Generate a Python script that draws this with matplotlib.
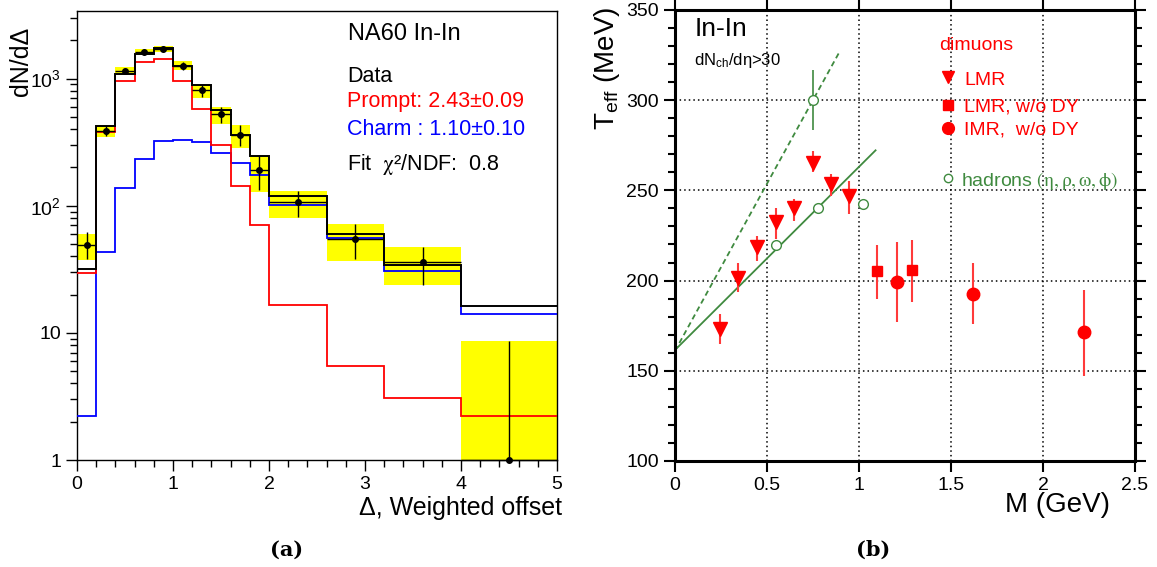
import matplotlib
matplotlib.use('Agg')
import matplotlib.pyplot as plt
import numpy as np
from matplotlib.ticker import FixedLocator, MultipleLocator, NullFormatter, FixedFormatter
from matplotlib.patches import Rectangle

plt.rcParams['font.family'] = ['Liberation Sans', 'DejaVu Sans']
plt.rcParams['mathtext.fontset'] = 'custom'
plt.rcParams['mathtext.rm'] = 'Liberation Sans'
plt.rcParams['mathtext.it'] = 'Liberation Sans:italic'
plt.rcParams['mathtext.bf'] = 'Liberation Sans:bold'

# ---------------- Left panel data ----------------
edges = [0, 0.2, 0.4, 0.6, 0.8, 1.0, 1.2, 1.4, 1.6, 1.8, 2.0, 2.6, 3.2, 4.0, 5.0]
data_vals = [49, 390, 1155, 1615, 1715, 1264, 806, 523, 360, 190, 107, 54.6, 35.9, 1.0]
stat_lo = [38, 355, 1085, 1530, 1620, 1170, 720, 450, 295, 132, 81, 38, 24, 1.0]
stat_hi = [62, 428, 1220, 1710, 1815, 1360, 890, 598, 428, 248, 130, 72, 47, 8.7]
syst_lo = [37.4, 348, 1075, 1520, 1605, 1160, 707, 437, 284, 129, 80, 36.8, 23.7, 1.0]
syst_hi = [60.4, 430, 1226, 1715, 1820, 1366, 898, 600, 430, 250, 130, 72.3, 47.5, 8.7]
fit_total = [31.8, 422, 1088, 1560, 1737, 1264, 892, 562, 358, 247, 120, 60.4, 34.2, 16.3]
prompt = [29.4, 381, 965, 1358, 1425, 953, 580, 302, 142, 71, 16.7, 5.5, 3.07, 2.22]
charm = [2.2, 43.5, 137, 232, 320, 327, 317, 260, 217, 176, 102, 56, 30.7, 14.0]

# ---------------- Right panel data ----------------
lmr_m = [0.245, 0.34, 0.444, 0.547, 0.647, 0.748, 0.846, 0.947]
lmr_t = [173.4, 201.7, 218.6, 232.4, 240.3, 265.4, 253.5, 247.0]
lmr_elo = [8.4, 7.9, 7.9, 9.2, 7.0, 5.4, 6.5, 10.0]
lmr_ehi = [7.9, 8.1, 5.9, 7.7, 4.9, 6.5, 5.5, 8.0]
sq_m = [1.096, 1.288]
sq_t = [205.1, 205.7]
sq_elo = [15.2, 17.4]
sq_ehi = [14.6, 16.7]
imr_m = [1.209, 1.62, 2.223]
imr_t = [199.1, 192.8, 171.3]
imr_elo = [22.1, 16.6, 24.0]
imr_ehi = [22.2, 17.0, 23.7]
had_m = [0.547, 0.748, 0.779, 1.02]
had_t = [219.6, 300.0, 240.3, 242.5]
had_elo = [0, 16.5, 0, 0]
had_ehi = [0, 17.0, 0, 0]
fit_solid_m = [0.0, 1.09]
fit_solid_t = [161.5, 272.2]
fit_dash_m = [0.0, 0.893]
fit_dash_t = [161.0, 326.6]

RED = '#ff0000'
GREEN = '#3f8a3f'

fig = plt.figure(figsize=(11.57, 5.67), dpi=100)

# ================= Left panel =================
axL = fig.add_axes([0.0666, 0.1887, 0.4149, 0.7919])
edges_a = np.array(edges)
centers = 0.5 * (edges_a[:-1] + edges_a[1:])
halfw = 0.5 * np.diff(edges_a)

for i in range(len(centers)):
    axL.add_patch(Rectangle((edges_a[i], syst_lo[i]), edges_a[i + 1] - edges_a[i],
                            syst_hi[i] - syst_lo[i], facecolor='#ffff00',
                            edgecolor='none', zorder=1))

axL.stairs(charm, edges, baseline=None, color='#0000ff', lw=1.3, zorder=3)
axL.stairs(prompt, edges, baseline=None, color='#ff0000', lw=1.3, zorder=3)
axL.stairs(fit_total, edges, baseline=None, color='black', lw=1.4, zorder=4)

dv = np.array(data_vals)
yerr = [dv - np.array(stat_lo), np.array(stat_hi) - dv]
axL.errorbar(centers, dv, xerr=halfw, yerr=yerr, fmt='o', color='black', ms=4,
             lw=1.0, capsize=0, zorder=5, clip_on=False)

axL.set_yscale('log')
axL.set_xlim(0, 5)
axL.set_ylim(1, 3400)
axL.yaxis.set_major_locator(FixedLocator([1, 10, 100, 1000]))
axL.yaxis.set_major_formatter(FixedFormatter(['1', '10', '$10^2$', '$10^3$']))
minors = [m * 10 ** d for d in range(0, 4) for m in range(2, 10) if m * 10 ** d < 3400]
axL.yaxis.set_minor_locator(FixedLocator(minors))
axL.yaxis.set_minor_formatter(NullFormatter())
axL.xaxis.set_major_locator(MultipleLocator(1))
axL.xaxis.set_minor_locator(MultipleLocator(0.2))
axL.tick_params(which='both', direction='out', top=False, right=False,
                labelsize=14, width=1)
axL.tick_params(which='major', length=8)
axL.tick_params(which='minor', length=5)
for s in axL.spines.values():
    s.set_linewidth(1.0)

axL.text(0.565, 0.935, 'NA60 In-In', transform=axL.transAxes, fontsize=17,
         va='baseline', ha='left')
axL.text(0.562, 0.8425, 'Data', transform=axL.transAxes, fontsize=15.5,
         va='baseline', ha='left')
axL.text(0.562, 0.7855, 'Prompt: 2.43\u00b10.09', transform=axL.transAxes,
         fontsize=15.5, va='baseline', ha='left', color='#ff0000')
axL.text(0.562, 0.7238, 'Charm : 1.10\u00b10.10', transform=axL.transAxes,
         fontsize=15.5, va='baseline', ha='left', color='#0000ff')
axL.text(0.562, 0.6459, 'Fit  $\\mathrm{\\chi}$\u00b2/NDF:  0.8', transform=axL.transAxes,
         fontsize=15.5, va='baseline', ha='left', math_fontfamily='stix')

fig.text(0.018, 0.952, 'dN/d\u0394', rotation=90, ha='center', va='top', fontsize=18)
fig.text(0.486, 0.104, '\u0394, Weighted offset', ha='right', va='center', fontsize=18)

# ================= Right panel =================
axR = fig.add_axes([0.5834, 0.187, 0.3976, 0.7954])
axR.set_xlim(0, 2.5)
axR.set_ylim(100, 350)
axR.yaxis.set_major_locator(MultipleLocator(50))
axR.yaxis.set_minor_locator(MultipleLocator(10))
axR.xaxis.set_major_locator(FixedLocator([0, 0.5, 1, 1.5, 2, 2.5]))
axR.xaxis.set_major_formatter(FixedFormatter(['0', '0.5', '1', '1.5', '2', '2.5']))
axR.grid(True, which='major', color='black', linestyle=(0, (1, 2)), lw=1.1, zorder=0)
axR.tick_params(which='both', direction='out', top=True, right=True,
                labeltop=False, labelright=False, labelsize=14, width=1.5)
axR.tick_params(which='major', length=8)
axR.tick_params(which='minor', length=5)
for s in axR.spines.values():
    s.set_linewidth(2.2)

axR.plot(fit_dash_m, fit_dash_t, color=GREEN, lw=1.3, linestyle=(0, (3, 2)), zorder=2)
axR.plot(fit_solid_m, fit_solid_t, color=GREEN, lw=1.3, zorder=2)

axR.errorbar(had_m, had_t, yerr=[had_elo, had_ehi], fmt='o', mfc='white',
             mec=GREEN, mew=1.0, ms=7, ecolor=GREEN, elinewidth=1.2, capsize=0, zorder=3)
axR.errorbar(lmr_m, lmr_t, yerr=[lmr_elo, lmr_ehi], fmt='v', color=RED, ms=9.5,
             ecolor='#ff3a3a', elinewidth=1.5, capsize=0, zorder=4)
axR.errorbar(sq_m, sq_t, yerr=[sq_elo, sq_ehi], fmt='s', color=RED, ms=7.5,
             ecolor='#ff3a3a', elinewidth=1.5, capsize=0, zorder=4)
axR.errorbar(imr_m, imr_t, yerr=[imr_elo, imr_ehi], fmt='o', color=RED, ms=9,
             ecolor='#ff3a3a', elinewidth=1.5, capsize=0, zorder=4)

# legend-like annotations
axR.text(0.574, 0.911, 'dimuons', transform=axR.transAxes, color=RED, fontsize=14,
         va='baseline', ha='left')
axR.plot([0.593], [0.851], 'v', color=RED, ms=8.5, transform=axR.transAxes, clip_on=False)
axR.text(0.628, 0.834, 'LMR', transform=axR.transAxes, color=RED, fontsize=14,
         va='baseline', ha='left')
axR.plot([0.593], [0.789], 's', color=RED, ms=7, transform=axR.transAxes, clip_on=False)
axR.text(0.628, 0.7745, 'LMR, w/o DY', transform=axR.transAxes, color=RED, fontsize=14,
         va='baseline', ha='left')
axR.plot([0.593], [0.738], 'o', color=RED, ms=8.5, transform=axR.transAxes, clip_on=False)
axR.text(0.628, 0.7228, 'IMR,  w/o DY', transform=axR.transAxes, color=RED, fontsize=14,
         va='baseline', ha='left')
axR.plot([0.593], [0.627], 'o', mfc='white', mec=GREEN, mew=1.0, ms=6,
         transform=axR.transAxes, clip_on=False)
axR.text(0.622, 0.6098, 'hadrons $\\mathrm{(\\eta, \\rho, \\omega, \\phi)}$',
         transform=axR.transAxes, color=GREEN, fontsize=14, va='baseline', ha='left',
         math_fontfamily='stix')

axR.text(0.0435, 0.942, 'In-In', transform=axR.transAxes, fontsize=19,
         va='baseline', ha='left')
axR.text(0.041, 0.878, 'dN$_{\\rm ch}$/d\u03b7>30', transform=axR.transAxes, fontsize=12,
         va='baseline', ha='left')

fig.text(0.525, 0.988, 'T$_{\\rm eff}$ (MeV)', rotation=90, ha='center', va='top', fontsize=20)
fig.text(0.959, 0.109, 'M (GeV)', ha='right', va='center', fontsize=20)

# captions
fig.text(0.248, 0.03, '(a)', ha='center', va='center', fontsize=15,
         family='DejaVu Serif', weight='bold')
fig.text(0.755, 0.03, '(b)', ha='center', va='center', fontsize=15,
         family='DejaVu Serif', weight='bold')

fig.savefig('out.png', dpi=100)
